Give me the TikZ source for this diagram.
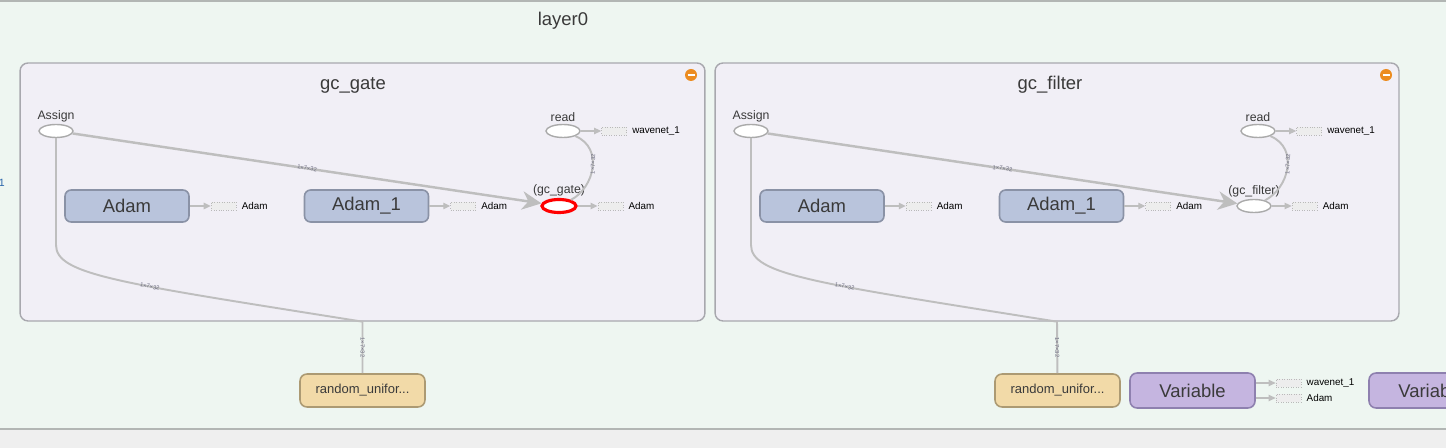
\documentclass[tikz,border=0pt]{standalone}
\usepackage{fontspec}
\setmainfont{Liberation Sans}
\usetikzlibrary{positioning,shapes.geometric,arrows.meta}
\definecolor{layerbg}{RGB}{238,246,241}
\definecolor{layerline}{RGB}{178,182,180}
\definecolor{bottombg}{RGB}{239,239,239}
\definecolor{metafill}{RGB}{241,239,246}
\definecolor{metaline}{RGB}{168,168,174}
\definecolor{opline}{RGB}{170,170,170}
\definecolor{adamfill}{RGB}{185,196,220}
\definecolor{adamline}{RGB}{138,146,166}
\definecolor{randfill}{RGB}{242,218,168}
\definecolor{randline}{RGB}{172,154,115}
\definecolor{varfill}{RGB}{197,181,224}
\definecolor{varline}{RGB}{142,128,175}
\definecolor{stubfill}{RGB}{237,237,237}
\definecolor{stubline}{RGB}{185,185,185}
\definecolor{edgegray}{RGB}{190,190,190}
\definecolor{txtgray}{RGB}{58,58,58}
\definecolor{dimtxt}{RGB}{110,110,130}
\definecolor{minusorange}{RGB}{236,140,32}
\definecolor{linkblue}{RGB}{40,100,170}
\begin{document}
\begin{tikzpicture}[x=0.02cm,y=-0.02cm,
                    every node/.style={text=txtgray},
                    metabox/.style={draw=metaline,fill=metafill,line width=0.8pt,rounded corners=4.5pt,minimum height=5.16cm,inner sep=0pt},
                    boxtitle/.style={font=\fontsize{10.5}{12}\selectfont},
                    minus/.style={circle,fill=minusorange,minimum size=0.24cm,inner sep=0pt},
                    opnode/.style={ellipse,draw=opline,fill=white,line width=0.8pt,minimum width=0.68cm,minimum height=0.26cm,inner sep=0pt,
                                   label={[font=\fontsize{7}{8}\selectfont,text=txtgray,inner sep=0.8pt]above:#1}},
                    adamnode/.style={draw=adamline,fill=adamfill,rounded corners=3.5pt,line width=0.9pt,minimum width=2.48cm,minimum height=0.64cm,font=\fontsize{10.5}{12}\selectfont},
                    randnode/.style={draw=randline,fill=randfill,rounded corners=4pt,line width=0.9pt,minimum width=2.5cm,minimum height=0.66cm,font=\fontsize{7.4}{9}\selectfont},
                    varnode/.style={draw=varline,fill=varfill,rounded corners=4pt,line width=0.9pt,minimum width=2.5cm,minimum height=0.7cm,font=\fontsize{10.5}{12}\selectfont},
                    stub/.style={draw=stubline,fill=stubfill,densely dotted,line width=0.4pt,minimum width=0.5cm,minimum height=0.16cm,inner sep=0pt},
                    stubtext/.style={font=\fontsize{5.6}{6}\selectfont,text=black,inner sep=0pt,right=0.1cm of #1},
                    flow/.style={draw=edgegray,line width=1.1pt},
                    ref/.style={draw=edgegray,line width=0.8pt,-{Triangle[length=4pt,width=3.6pt]}},
                    bigtip/.style={-{Stealth[length=11pt,width=10.5pt,inset=3.5pt]},line width=1.4pt},
                    dim/.style={font=\fontsize{3.3}{3.3}\selectfont,text=dimtxt,sloped,inner sep=0.5pt}]
    \useasboundingbox (0,0) rectangle (1446,448);
    % layer0 background
    \fill[layerbg] (0,0) rectangle (1446,428);
    \fill[bottombg] (0,428) rectangle (1446,448);
    \draw[layerline,line width=1.2pt] (0,1) -- (1446,1);
    \draw[layerline,line width=1.2pt] (0,429) -- (1446,429);
    \node[font=\fontsize{10.5}{12}\selectfont] (layertitle) at (563,21) {layer0};
    \node[anchor=east,font=\fontsize{6}{7}\selectfont,text=linkblue,inner sep=0pt] (leftcut) at (5,183) {1};

    % gc_gate
    \node[metabox,minimum width=13.7cm] (gcgate) at (362.5,192) {};
    \node[boxtitle] (gatetitle) at (353,85) {gc\_gate};
    \node[minus] (gateminus) at (691,75) {};
    \draw[white,line width=1.3pt] ([xshift=-0.07cm]gateminus.center) -- ([xshift=0.07cm]gateminus.center);
    \node[opnode=Assign] (gateassign) at (56,131) {};
    \node[opnode=read] (gateread) at (563,131) {};
    \node[opnode={{(gc\_gate)}},draw=red,line width=1.8pt] (gateop) at (559,206) {};
    \node[adamnode] (gateadam) at (127,206) {Adam};
    \node[adamnode] (gateadamone) at (366.5,206) {Adam\_1};
    \node[stub,right=0.41cm of gateread] (gatereadout) {};
    \node[stubtext=gatereadout] (gatereadtxt) {wavenet\_1};
    \node[stub,right=0.42cm of gateadam] (gateadamout) {};
    \node[stubtext=gateadamout] (gateadamtxt) {Adam};
    \node[stub,right=0.42cm of gateadamone] (gateadamoneout) {};
    \node[stubtext=gateadamoneout] (gateadamonetxt) {Adam};
    \node[stub,right=0.4cm of gateop] (gateopout) {};
    \node[stubtext=gateopout] (gateoptxt) {Adam};
    \node[randnode] (gaterandom) at (362.5,390.5) {random\_unifor...};
    \coordinate (gatebend) at (gcgate.south);
    \draw[ref] (gateread) -- (gatereadout);
    \draw[ref] (gateadam) -- (gateadamout);
    \draw[ref] (gateadamone) -- (gateadamoneout);
    \draw[ref] (gateop) -- (gateopout);
    \draw[flow,bigtip] (gateassign) -- node[dim,pos=0.5] (gateassigndim) {1×7×32} (gateop);
    \draw[flow] (gateread) .. controls (604,148) and (594,188) .. node[dim,pos=0.45] (gatereaddim) {1×7×32} (gateop);
    \draw[flow] (gateassign) -- (56,245) .. controls (56,275) and (120,283) .. node[dim,pos=0.6] (gateinitdim) {1×7×32} (gatebend)
                -- node[dim,pos=0.5] (gaterandomdim) {1×7×32} (gaterandom);

    % gc_filter
    \node[metabox,minimum width=13.68cm] (gcfilter) at (1057,192) {};
    \node[boxtitle] (filtertitle) at (1050,85) {gc\_filter};
    \node[minus] (filterminus) at (1386,75) {};
    \draw[white,line width=1.3pt] ([xshift=-0.07cm]filterminus.center) -- ([xshift=0.07cm]filterminus.center);
    \node[opnode=Assign] (filterassign) at (751,131) {};
    \node[opnode=read] (filterread) at (1258,131) {};
    \node[opnode={{(gc\_filter)}}] (filterop) at (1254,206) {};
    \node[adamnode] (filteradam) at (822,206) {Adam};
    \node[adamnode] (filteradamone) at (1061.5,206) {Adam\_1};
    \node[stub,right=0.41cm of filterread] (filterreadout) {};
    \node[stubtext=filterreadout] (filterreadtxt) {wavenet\_1};
    \node[stub,right=0.42cm of filteradam] (filteradamout) {};
    \node[stubtext=filteradamout] (filteradamtxt) {Adam};
    \node[stub,right=0.42cm of filteradamone] (filteradamoneout) {};
    \node[stubtext=filteradamoneout] (filteradamonetxt) {Adam};
    \node[stub,right=0.4cm of filterop] (filteropout) {};
    \node[stubtext=filteropout] (filteroptxt) {Adam};
    \node[randnode] (filterrandom) at (1057.5,390.5) {random\_unifor...};
    \coordinate (filterbend) at (gcfilter.south);
    \draw[ref] (filterread) -- (filterreadout);
    \draw[ref] (filteradam) -- (filteradamout);
    \draw[ref] (filteradamone) -- (filteradamoneout);
    \draw[ref] (filterop) -- (filteropout);
    \draw[flow,bigtip] (filterassign) -- node[dim,pos=0.5] (filterassigndim) {1×7×32} (filterop);
    \draw[flow] (filterread) .. controls (1299,148) and (1289,188) .. node[dim,pos=0.45] (filterreaddim) {1×7×32} (filterop);
    \draw[flow] (filterassign) -- (751,245) .. controls (751,275) and (815,283) .. node[dim,pos=0.6] (filterinitdim) {1×7×32} (filterbend)
                -- node[dim,pos=0.5] (filterrandomdim) {1×7×32} (filterrandom);

    % variables
    \node[varnode] (variable) at (1192.5,390.5) {Variable};
    \node[stub] (varwave) at (1288.5,383) {};
    \node[stubtext=varwave] (varwavetxt) {wavenet\_1};
    \node[stub] (varadam) at (1288.5,398) {};
    \node[stubtext=varadam] (varadamtxt) {Adam};
    \draw[ref] (variable.east |- varwave) -- (varwave);
    \draw[ref] (variable.east |- varadam) -- (varadam);
    \node[varnode] (variabletwo) at (1431.5,390.5) {Variable};
\end{tikzpicture}
\end{document}
